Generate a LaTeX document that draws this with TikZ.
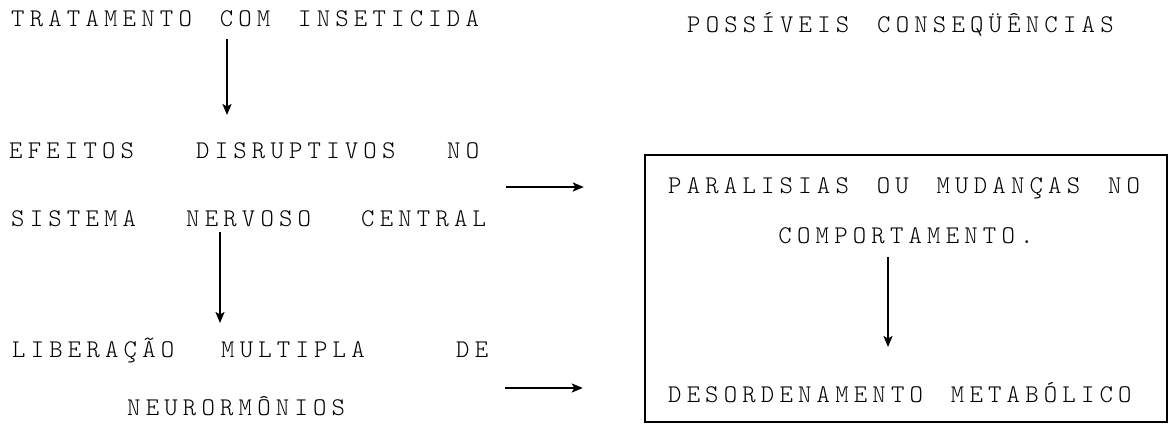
\documentclass[tikz,border=0pt]{standalone}
\usepackage{fontspec}
\usetikzlibrary{arrows.meta}
\usetikzlibrary{calc}

\newfontfamily\mono{lmmonolt10-regular.otf}[LetterSpace=20.4,WordSpace=1.5]
\newcommand{\cola}[2]{\makebox[#1pt][l]{#2}}
\newcommand{\fonte}{\mono\fontsize{25.5}{25.5}\selectfont}

\begin{document}
\begin{tikzpicture}[x=1pt,y=-1pt,
	txt/.style={font=\fonte,inner sep=0pt,anchor=base west},
	seta/.style={line width=2pt,-{Stealth[length=11pt,width=9pt,inset=2.5pt]}},
	caixa/.style={draw,line width=2.4pt,minimum width=522pt,minimum height=267pt,inner sep=0pt}]
	\useasboundingbox (0,0) rectangle (1169,423);
	% coluna da esquerda
	\node[txt] (tit) at (11,27) {TRATAMENTO COM INSETICIDA};
	\node[txt] (efe) at (9,158) {\cola{187}{EFEITOS}\cola{251}{DISRUPTIVOS}NO};
	\node[txt] (sis) at (11,226) {\cola{175}{SISTEMA}\cola{175}{NERVOSO}CENTRAL};
	\node[txt] (lib) at (12,357) {\cola{209}{LIBERAÇÃO}\cola{235}{MULTIPLA}DE};
	\node[txt] (neu) at (127,415) {NEURORMÔNIOS};
	% coluna da direita
	\node[txt] (pos) at (687,32) {POSSÍVEIS CONSEQÜÊNCIAS};
	\node[caixa] (box) at (906,288.5) {};
	\node[txt] (par) at (668,193) {PARALISIAS OU MUDANÇAS NO};
	\node[txt,anchor=base] (com) at (906,243) {COMPORTAMENTO.};
	\node[txt] (des) at (668,402) {DE\kern5pt SORDENAMENTO METABÓLICO};
	% setas
	\coordinate (a1) at (227,0);
	\coordinate (a2) at (220,0);
	\coordinate (a3) at (888,0);
	\coordinate (r1) at (506,187);
	\coordinate (r2) at (505,388);
	\draw[seta] ($(a1 |- tit.base)+(0,12)$) -- ($(a1 |- efe.base)+(0,-43)$);
	\draw[seta] ($(a2 |- sis.base)+(0,6)$) -- ($(a2 |- lib.base)+(0,-34)$);
	\draw[seta] ($(a3 |- com.base)+(0,14)$) -- ($(a3 |- des.base)+(0,-55)$);
	\draw[seta] (r1) -- ($(box.west |- r1)+(-60,0)$);
	\draw[seta] (r2) -- ($(box.west |- r2)+(-61,0)$);
\end{tikzpicture}
\end{document}
